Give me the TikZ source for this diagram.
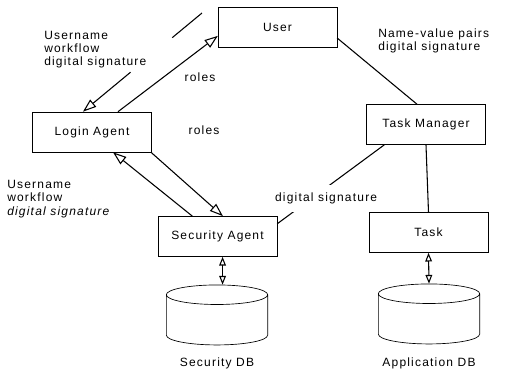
\documentclass[tikz,border=0pt]{standalone}
\usepackage{fontspec}
\setmainfont[LetterSpace=10]{Liberation Sans}
\usetikzlibrary{arrows.meta,calc,shapes.geometric}
\tikzset{
    agent/.style={draw,line width=0.5pt,minimum width=89pt,minimum height=30pt,inner sep=0pt},
    db/.style={draw,cylinder,shape border rotate=90,aspect=2.2,minimum width=76pt,minimum height=45pt,line width=0.5pt},
    msg/.style={align=left,inner sep=0pt,anchor=west},
    link/.style={line width=0.8pt},
    flow/.style={line width=0.8pt,-{Triangle[open,length=10pt,width=7pt]}},
    dbflow/.style={line width=0.8pt,{Triangle[open,length=6.5pt,width=5pt]}-{Triangle[open,length=6.5pt,width=5pt]}}
}

\begin{document}
\begin{tikzpicture}[x=0.75pt,y=-0.75pt,font=\fontsize{9}{10}\selectfont]
\useasboundingbox (0,0) rectangle (508,369);
\begin{scope}[every node/.style={agent}]
    \node (user) at (277.5,27.5) {User};
    \node (login) at (92,132) {Login Agent};
    \node (tm) at (426,124.5) {Task Manager};
    \node (sa) at (217.5,236.5) {Security Agent};
    \node (task) at (428.5,232.5) {Task};
\end{scope}
\node[db] (secdb) at (217,322) {};
\node[db] (appdb) at (429,321) {};
\node (secdblbl) at (217,363) {Security DB};
\node (appdblbl) at (429,363) {Application DB};

% messages
\node[msg] (usermsg) at (44,49.5) {Username\\workflow\\digital signature};
\node[msg] (loginmsg) at (7,199) {Username\\workflow\\\textit{digital signature}};
\node[msg] (tmmsg) at (378,41) {Name-value pairs\\digital signature};
\node (roles1) at (200,77) {roles};
\node (roles2) at (204,130) {roles};

\begin{scope}[every node/.style={fill=white,inner xsep=1pt,inner ysep=6pt}]
    \coordinate (ustart) at (202,13);
    \path (ustart) -- (login.114) coordinate[pos=0.25] (gapa) coordinate[pos=0.6] (gapb);
    \draw[link] (ustart) -- (gapa);
    \draw[flow] (gapb) -- (login.114);
    \draw[flow] (login.38) -- (user.188);
    \draw[flow] (login.341) -- (sa.75);
    \draw[flow] (sa.141) -- (login.316);
    \draw[link] (user.350) -- (tm.114);
    \draw[link] (tm.206) -- node[pos=0.68,xshift=11pt] {digital signature} (sa.12);
    \draw[link] (tm.south) -- (task.north);
    \draw[dbflow] (sa.284) -- (sa.284 |- secdb.north);
    \draw[dbflow] (task.south) -- (appdb.north);
\end{scope}
\end{tikzpicture}
\end{document}
